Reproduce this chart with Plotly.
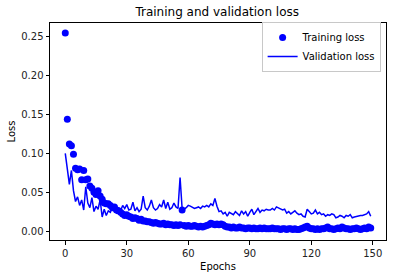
import plotly.graph_objects as go

epochs = list(range(150))

training_loss = [
    0.255, 0.144, 0.112, 0.110, 0.099, 0.081, 0.079, 0.080, 0.066, 0.078,
    0.066, 0.067, 0.058, 0.055, 0.050, 0.047, 0.052, 0.045, 0.041, 0.036,
    0.035, 0.035, 0.033, 0.030, 0.031, 0.027, 0.026, 0.024, 0.022, 0.020,
    0.021, 0.019, 0.018, 0.016, 0.017, 0.016, 0.014, 0.015, 0.013, 0.013,
    0.012, 0.012, 0.011, 0.010, 0.011, 0.010, 0.009, 0.009, 0.010, 0.008,
    0.009, 0.008, 0.008, 0.007, 0.008, 0.007, 0.008, 0.027, 0.007, 0.006,
    0.007, 0.006, 0.006, 0.007, 0.006, 0.005, 0.006, 0.005, 0.006, 0.007,
    0.008, 0.010, 0.009, 0.008, 0.009, 0.008, 0.009, 0.008, 0.006, 0.005,
    0.005, 0.004, 0.005, 0.004, 0.004, 0.005, 0.004, 0.004, 0.003, 0.004,
    0.004, 0.003, 0.004, 0.003, 0.003, 0.004, 0.003, 0.004, 0.003, 0.003,
    0.003, 0.004, 0.003, 0.003, 0.003, 0.002, 0.003, 0.003, 0.002, 0.003,
    0.003, 0.002, 0.003, 0.002, 0.002, 0.003, 0.004, 0.005, 0.006, 0.004,
    0.003, 0.003, 0.002, 0.003, 0.002, 0.003, 0.003, 0.004, 0.005, 0.003,
    0.003, 0.002, 0.003, 0.004, 0.003, 0.005, 0.004, 0.003, 0.003, 0.002,
    0.003, 0.003, 0.004, 0.003, 0.002, 0.003, 0.004, 0.003, 0.005, 0.004,
]

validation_loss = [
    0.100, 0.076, 0.060, 0.078, 0.052, 0.038, 0.044, 0.033, 0.040, 0.027,
    0.057, 0.036, 0.030, 0.043, 0.025, 0.032, 0.028, 0.040, 0.018, 0.028,
    0.020, 0.026, 0.024, 0.031, 0.025, 0.023, 0.030, 0.026, 0.033, 0.029,
    0.034, 0.027, 0.028, 0.037, 0.026, 0.030, 0.025, 0.028, 0.045, 0.030,
    0.027, 0.032, 0.040, 0.030, 0.027, 0.029, 0.034, 0.031, 0.040, 0.029,
    0.037, 0.028, 0.030, 0.036, 0.031, 0.029, 0.069, 0.029, 0.028, 0.030,
    0.033, 0.032, 0.031, 0.029, 0.030, 0.031, 0.029, 0.032, 0.031, 0.033,
    0.031, 0.035, 0.033, 0.042, 0.032, 0.025, 0.026, 0.022, 0.024, 0.019,
    0.024, 0.022, 0.021, 0.025, 0.023, 0.020, 0.026, 0.022, 0.025, 0.019,
    0.024, 0.028, 0.021, 0.025, 0.029, 0.024, 0.027, 0.026, 0.028, 0.027,
    0.027, 0.029, 0.027, 0.031, 0.030, 0.029, 0.027, 0.028, 0.023, 0.025,
    0.022, 0.024, 0.026, 0.023, 0.021, 0.022, 0.019, 0.018, 0.028, 0.025,
    0.022, 0.023, 0.027, 0.022, 0.024, 0.021, 0.022, 0.019, 0.021, 0.020,
    0.022, 0.021, 0.017, 0.018, 0.020, 0.019, 0.017, 0.020, 0.019, 0.021,
    0.017, 0.018, 0.019, 0.020, 0.020, 0.020, 0.021, 0.022, 0.025, 0.019,
]

x_ticks = [0, 30, 60, 90, 120, 150]
y_ticks = [0.00, 0.05, 0.10, 0.15, 0.20, 0.25]

FONT = "DejaVu Sans"

fig = go.Figure()
fig.add_trace(go.Scatter(
    x=epochs, y=training_loss, mode="markers", name="Training loss",
    marker=dict(color="#0000ff", size=7, line=dict(width=0)),
))
fig.add_trace(go.Scatter(
    x=epochs, y=validation_loss, mode="lines", name="Validation loss",
    line=dict(color="#0000ff", width=1.5),
))

axis_common = dict(
    showline=True, mirror=True, linecolor="black", linewidth=1,
    ticks="outside", ticklen=3.5, tickwidth=1, tickcolor="black",
    showgrid=False, zeroline=False, automargin=False,
    tickfont=dict(family=FONT, size=10, color="#222"),
)

fig.update_layout(
    width=395, height=278,
    margin=dict(l=50, r=9, t=23, b=38),
    paper_bgcolor="white", plot_bgcolor="white",
    font=dict(family=FONT, size=10, color="black"),
    title=dict(text="Training and validation loss", x=0.55, xanchor="center",
               yref="container", y=0.957, yanchor="middle",
               font=dict(family=FONT, size=12, color="black")),
    xaxis=dict(range=[-7.45, 156.45], tickvals=x_ticks,
               title=dict(text="Epochs", font=dict(family=FONT, size=10), standoff=5),
               **axis_common),
    yaxis=dict(range=[-0.0116, 0.268], tickvals=y_ticks, tickformat=".2f",
               title=dict(text="Loss", font=dict(family=FONT, size=10), standoff=3),
               **axis_common),
    legend=dict(x=0.984, y=1.005, xanchor="right", yanchor="top",
                bgcolor="rgba(255,255,255,0.8)", bordercolor="#c8c8c8", borderwidth=1,
                font=dict(family=FONT, size=10), itemwidth=30,
                tracegroupgap=0),
    showlegend=True,
)

fig.write_html(
    "out.html",
    config={"displayModeBar": False},
    post_script="document.body.style.margin='0';document.body.style.overflow='hidden';",
)
